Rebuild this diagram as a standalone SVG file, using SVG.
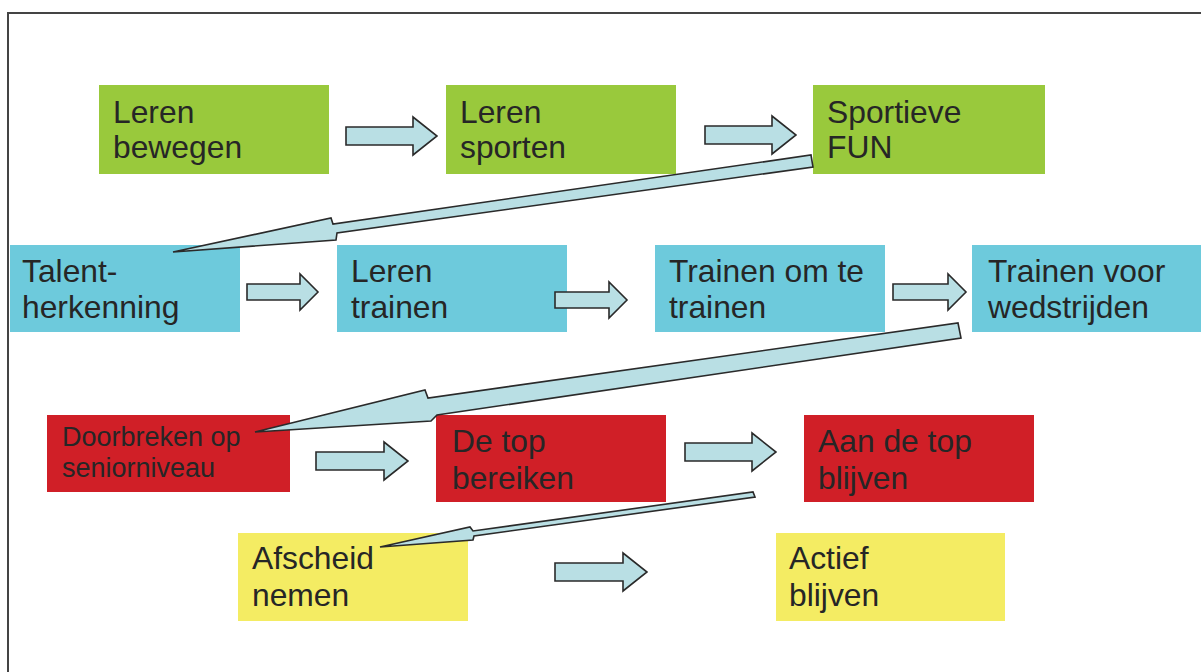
<svg xmlns="http://www.w3.org/2000/svg" width="1201" height="672" viewBox="0 0 1201 672">
<style>
.g{fill:#99c93c}.b{fill:#6dcadc}.r{fill:#d01f27}.y{fill:#f4ec63}
text{font-family:"Liberation Sans",Arial,sans-serif;font-size:31.8px;fill:#262626}
.sm{font-size:27px}
.arr{fill:#b9dfe4;stroke:#2a2a2a;stroke-width:1.6;stroke-linejoin:miter}
</style>
<rect x="0" y="0" width="1201" height="672" fill="#fff"/>
<rect x="8" y="13" width="1200" height="700" fill="none" stroke="#444" stroke-width="2"/>
<g id="n1"><rect class="g" x="99" y="85" width="230" height="89"/><text x="113" y="123">Leren</text><text x="113" y="158">bewegen</text></g>
<g id="n2"><rect class="g" x="446" y="85" width="230" height="89"/><text x="460" y="123">Leren</text><text x="460" y="158">sporten</text></g>
<g id="n3"><rect class="g" x="813" y="85" width="232" height="89"/><text x="827" y="123">Sportieve</text><text x="827" y="158">FUN</text></g>
<g id="n4"><rect class="b" x="10" y="245" width="230" height="87"/><text x="22" y="282">Talent-</text><text x="22" y="318">herkenning</text></g>
<g id="n5"><rect class="b" x="337" y="245" width="230" height="87"/><text x="351" y="282">Leren</text><text x="351" y="318">trainen</text></g>
<g id="n6"><rect class="b" x="655" y="245" width="230" height="87"/><text x="669" y="282">Trainen om te</text><text x="669" y="318">trainen</text></g>
<g id="n7"><rect class="b" x="972" y="245" width="235" height="87"/><text x="988" y="282">Trainen voor</text><text x="988" y="318">wedstrijden</text></g>
<g id="n8"><rect class="r" x="47" y="415" width="243" height="77"/><text class="sm" x="62" y="446">Doorbreken op</text><text class="sm" x="62" y="477">seniorniveau</text></g>
<g id="n9"><rect class="r" x="436" y="415" width="230" height="87"/><text x="452" y="452">De top</text><text x="452" y="489">bereiken</text></g>
<g id="n10"><rect class="r" x="804" y="415" width="230" height="87"/><text x="818" y="452">Aan de top</text><text x="818" y="489">blijven</text></g>
<g id="n11"><rect class="y" x="238" y="533" width="230" height="88"/><text x="252" y="569">Afscheid</text><text x="252" y="606">nemen</text></g>
<g id="n12"><rect class="y" x="776" y="533" width="229" height="88"/><text x="789" y="569">Actief</text><text x="789" y="606">blijven</text></g>
<g id="connectors">
<polygon class="arr" points="346,127 413,127 413,117 437,136 413,155 413,145 346,145"/>
<polygon class="arr" points="705,126 772,126 772,116 796,135 772,154 772,144 705,144"/>
<polygon class="arr" points="247,284 300,284 300,274 318,292 300,310 300,300 247,300"/>
<polygon class="arr" points="555,292 609,292 609,282 627,300 609,318 609,308 555,308"/>
<polygon class="arr" points="893,284 948,284 948,274 966,292 948,310 948,300 893,300"/>
<polygon class="arr" points="316,452 384,452 384,442 408,461 384,480 384,470 316,470"/>
<polygon class="arr" points="685,443 752,443 752,433 776,452 752,471 752,461 685,461"/>
<polygon class="arr" points="555,563 623,563 623,553 647,572 623,591 623,581 555,581"/>
<polygon class="arr" points="173,252 336,240 337,233 813,167 811,155 333,224 331,218"/>
<polygon class="arr" points="255,432 431,421 437,415 961,338 958,323 428,398 425,390"/>
<polygon class="arr" points="380,547 473,540 474,536 755,497 753,492 473,531 470,527"/>
</g>
</svg>
